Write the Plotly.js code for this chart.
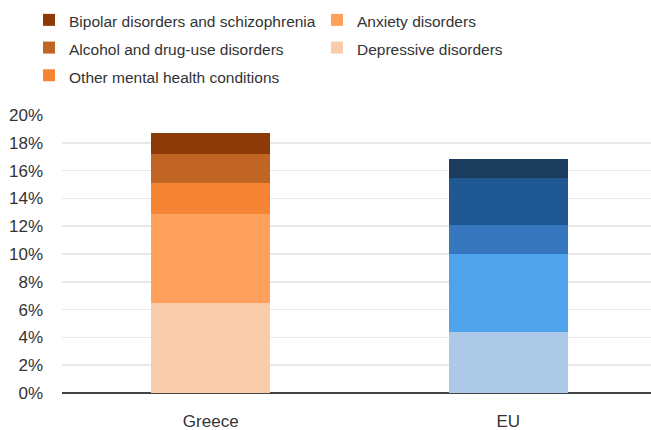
<!DOCTYPE html>
<html>
<head>
<meta charset="utf-8">
<script src="https://cdn.plot.ly/plotly-3.0.1.min.js"></script>
<style>html,body{margin:0;padding:0;background:#fff}#chart{width:651px;height:430px}</style>
</head>
<body>
<div id="chart"></div>
<script>
const categories = ["Greece", "EU"];
const depressive = [6.5, 4.4];
const anxiety = [6.4, 5.6];
const otherConditions = [2.2, 2.1];
const alcoholDrug = [2.1, 3.4];
const bipolar = [1.5, 1.3];
const tickValues = [0, 2, 4, 6, 8, 10, 12, 14, 16, 18, 20];
const tickLabels = ["0%", "2%", "4%", "6%", "8%", "10%", "12%", "14%", "16%", "18%", "20%"];

const series = [
  {name: "Depressive disorders", y: depressive, colors: ["#F9CDAC", "#ADC9E8"], rank: 4},
  {name: "Anxiety disorders", y: anxiety, colors: ["#FFA05C", "#4FA3EB"], rank: 2},
  {name: "Other mental health conditions", y: otherConditions, colors: ["#F58435", "#3576BC"], rank: 5},
  {name: "Alcohol and drug-use disorders", y: alcoholDrug, colors: ["#C06524", "#1F5892"], rank: 3},
  {name: "Bipolar disorders and schizophrenia", y: bipolar, colors: ["#8B3A08", "#1C3C5E"], rank: 1}
];

const traces = series.map(s => ({
  type: "bar",
  name: '<span style="font-size:15.5px">' + s.name + '</span>',
  x: categories,
  y: s.y,
  marker: {color: s.colors, line: {width: 0}},
  legendrank: s.rank,
  hoverinfo: "y"
}));

const layout = {
  width: 651,
  height: 430,
  margin: {l: 62, r: 0, t: 115, b: 37},
  paper_bgcolor: "#fff",
  plot_bgcolor: "#fff",
  barmode: "stack",
  bargap: 0.6,
  font: {family: "Liberation Sans, Arial, sans-serif", size: 17, color: "#333"},
  xaxis: {
    range: [-0.5, 1.48],
    showgrid: false,
    showline: false,
    ticks: "",
    ticklabelstandoff: 16,
    tickfont: {size: 17, color: "#333"},
    fixedrange: true
  },
  yaxis: {
    range: [0, 20],
    tickvals: tickValues,
    ticktext: tickLabels,
    showgrid: true,
    gridcolor: "#E8E8E8",
    gridwidth: 1.5,
    zeroline: true,
    zerolinecolor: "#444",
    zerolinewidth: 2,
    ticks: "",
    ticklabelstandoff: 18,
    tickfont: {size: 17, color: "#333"},
    fixedrange: true
  },
  showlegend: true,
  legend: {
    orientation: "h",
    x: -0.056,
    xanchor: "left",
    y: 1.41,
    yanchor: "top",
    entrywidth: 243,
    entrywidthmode: "pixels",
    font: {family: "Liberation Sans, Arial, sans-serif", size: 19, color: "#333"},
    bgcolor: "rgba(0,0,0,0)",
    traceorder: "normal"
  }
};

Plotly.newPlot("chart", traces, layout, {displayModeBar: false, staticPlot: true});
</script>
</body>
</html>
